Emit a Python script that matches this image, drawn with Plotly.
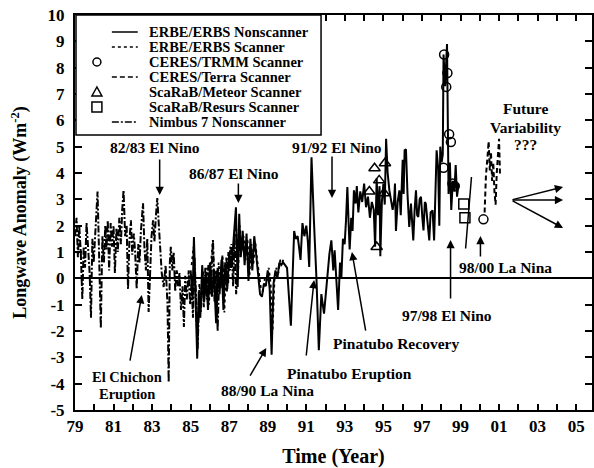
import plotly.graph_objects as go

# ---------------- data ----------------
nimbus_x = [1979.0, 1979.08, 1979.15, 1979.22, 1979.3, 1979.38, 1979.45, 1979.52, 1979.6, 1979.68,
            1979.76, 1979.83, 1979.9, 1979.97, 1980.05, 1980.12, 1980.17, 1980.25, 1980.34, 1980.42,
            1980.5, 1980.57, 1980.63, 1980.7, 1980.77, 1980.85, 1980.92, 1981.0, 1981.07, 1981.15,
            1981.22, 1981.3, 1981.38, 1981.45, 1981.52, 1981.6, 1981.68, 1981.75, 1981.82, 1981.9,
            1981.97, 1982.05, 1982.12, 1982.2, 1982.28, 1982.35, 1982.42, 1982.53, 1982.6, 1982.68,
            1982.75, 1982.82, 1982.9, 1982.97, 1983.05, 1983.12, 1983.2, 1983.27, 1983.35, 1983.42,
            1983.5, 1983.6, 1983.7, 1983.8, 1983.86, 1983.92, 1983.97, 1984.05, 1984.12, 1984.2,
            1984.28, 1984.35, 1984.42, 1984.5, 1984.58, 1984.65, 1984.72, 1984.8, 1984.9, 1984.97,
            1985.05, 1985.12, 1985.2, 1985.28, 1985.36, 1985.45, 1985.52, 1985.6, 1985.68, 1985.76,
            1985.84, 1985.92, 1986.0, 1986.08, 1986.16, 1986.24, 1986.32, 1986.4, 1986.48, 1986.56,
            1986.64, 1986.72, 1986.8, 1986.88, 1986.96, 1987.04, 1987.12, 1987.2, 1987.28, 1987.36,
            1987.44]
nimbus_y = [1.6, 2.3, 0.8, 2.0, 1.0, -0.8, 1.2, 0.4, 2.1, 1.0,
            0.2, -1.5, 1.5, 0.6, 1.8, 2.4, 3.3, 0.9, -1.9, 1.6,
            0.6, 2.0, 1.1, 2.2, 0.3, 2.1, 1.2, 2.0, 0.2, 1.9,
            1.0, 2.3, 1.3, 2.6, 3.35, 1.6, 2.0, -0.4, 1.4, 2.2,
            0.9, 1.7, 1.0, -0.4, 1.3, 0.6, 1.8, 2.85, 1.2, 0.3,
            1.5, -1.28, 0.4, 1.6, 2.2, 1.4, 2.4, 3.05, 2.0, 1.0,
            0.2, -0.33, 0.5, -1.0, -3.95, 0.6, 1.2, 0.3, 1.0, -0.5,
            0.3, -0.3, 0.2, -1.2, -0.3, -1.85, 0.1, -0.8, 0.3, -1.0,
            -0.2, -1.5, 0.8, -0.7, -2.7, -0.6, -1.3, 0.2, -1.1, 0.4,
            -0.8, 0.5, -0.6, 0.2, 1.45, -0.9, 0.3, -2.0, 0.1, -0.4,
            0.8, -0.2, 0.6, -0.5, 1.0, 0.3, 1.3, -0.3, 1.6, -0.6,
            0.3]

erbs_ns_x = [1985.0, 1985.1, 1985.17, 1985.25, 1985.34, 1985.42, 1985.5, 1985.6, 1985.7, 1985.8,
             1985.9, 1986.0, 1986.1, 1986.2, 1986.32, 1986.4, 1986.5, 1986.6, 1986.7, 1986.8,
             1986.9, 1987.0, 1987.1, 1987.2, 1987.35, 1987.44, 1987.52, 1987.6, 1987.7, 1987.8,
             1987.9, 1988.0, 1988.1, 1988.2, 1988.3, 1988.4, 1988.5, 1988.6, 1988.7, 1988.8,
             1988.9, 1989.0, 1989.1, 1989.2, 1989.3, 1989.4, 1989.5, 1989.6, 1989.7, 1989.8,
             1989.9, 1990.0, 1990.2, 1990.37, 1990.45, 1990.55, 1990.62, 1990.7, 1990.8, 1990.9,
             1991.0, 1991.08, 1991.15, 1991.27, 1991.4, 1991.53, 1991.65, 1991.78, 1991.92, 1992.04,
             1992.12, 1992.2, 1992.3, 1992.4, 1992.47, 1992.55, 1992.65, 1992.75, 1992.82, 1992.9,
             1992.99, 1993.06, 1993.13, 1993.2, 1993.25, 1993.33, 1993.4, 1993.47, 1993.56, 1993.62,
             1993.7, 1993.8, 1993.9, 1994.0, 1994.1, 1994.2, 1994.3, 1994.4, 1994.5, 1994.57,
             1994.65, 1994.72, 1994.8, 1994.84, 1994.92, 1995.0, 1995.07, 1995.14, 1995.22, 1995.31,
             1995.4, 1995.48, 1995.56, 1995.6, 1995.65, 1995.74, 1995.83, 1995.9, 1996.0, 1996.05,
             1996.1, 1996.17, 1996.25, 1996.34, 1996.43, 1996.55, 1996.62, 1996.69, 1996.75, 1996.81,
             1996.88, 1996.95, 1997.02, 1997.08, 1997.15, 1997.2, 1997.28, 1997.38, 1997.45, 1997.55,
             1997.63, 1997.7, 1997.76, 1997.84, 1997.9, 1997.95, 1998.02, 1998.08, 1998.12, 1998.2,
             1998.3, 1998.38, 1998.45, 1998.52, 1998.6, 1998.68, 1998.75, 1998.82, 1998.9]
erbs_ns_y = [0.3, -0.8, 1.57, -1.2, -3.05, -0.5, -1.5, 0.5, -0.9, 0.2,
             -1.2, 0.6, -0.7, 0.3, -1.7, 0.4, -0.6, 0.7, -1.2, 0.6,
             -0.4, 1.0, 0.4, 1.2, 2.7, -0.33, 2.45, 0.8, 1.8, 0.5,
             1.7, -0.1, 1.5, 0.3, 1.6, 0.9, 0.0, -0.6, -0.7, -0.2,
             -0.3, 0.3, -0.4, -2.9, -0.2, 0.3, 0.0, 0.6, 0.5, 0.6,
             0.5, 0.4, -1.8, 1.8, 1.5, 1.6, 1.2, 0.7, 2.1, 1.6,
             2.0, 1.4, 0.43, 4.6, 2.1, -0.07, -2.73, -0.6, -1.34, -0.33,
             0.5, 0.94, 1.44, 0.3, 1.06, -0.2, -1.2, 0.6, 0.05, 1.5,
             1.3, 2.2, 3.47, 2.0, 1.1, 2.3, 1.8, 3.34, 2.84, 3.5,
             2.5, 3.3, 2.9, 3.6, 2.7, 3.1, 2.3, 2.9, 2.6, 1.2,
             3.8, 2.4, 3.5, 0.84, 2.9, 3.6, 2.8, 5.3, 4.0, 3.34,
             3.0, 2.6, 3.0, 3.6, 1.8, 2.9, 3.34, 2.4, 4.5, 3.2,
             4.86, 4.9, 3.2, 1.95, 2.84, 1.44, 2.6, 3.34, 2.4, 2.33,
             3.0, 3.1, 2.3, 1.82, 2.9, 2.84, 2.2, 1.44, 2.5, 2.58,
             1.44, 3.6, 4.86, 4.2, 2.0, 5.0, 4.4, 4.7, 8.5, 7.3,
             8.9, 3.2, 4.4, 2.6, 3.7, 3.3, 4.3, 3.1, 3.6]

erbs_sc_x = [1985.05, 1985.15, 1985.25, 1985.35, 1985.45, 1985.55, 1985.65, 1985.75, 1985.85, 1985.95,
             1986.05, 1986.15, 1986.25, 1986.35, 1986.45, 1986.55, 1986.65, 1986.75, 1986.85, 1986.95,
             1987.05, 1987.15, 1987.25, 1987.35, 1987.45, 1987.55, 1987.65, 1987.75, 1987.85, 1987.95,
             1988.05, 1988.15, 1988.25, 1988.35, 1988.45, 1988.55, 1988.65, 1988.75, 1988.85, 1988.95,
             1989.05, 1989.15, 1989.25, 1989.35, 1989.45, 1989.55, 1989.65, 1989.75, 1989.85]
erbs_sc_y = [0.5, 1.2, -0.5, -2.4, -0.2, -1.0, 0.3, -0.6, 0.4, -1.0,
             0.5, 1.45, -0.3, -1.4, 0.6, -0.3, 0.9, -1.3, 0.8, -0.2,
             1.2, 0.6, 1.4, 2.2, 0.0, 2.0, 1.0, 1.6, 0.7, 1.5,
             0.1, 1.3, 0.5, 1.4, 0.7, 0.2, -0.4, -0.5, 0.0, -0.1,
             0.4, -0.2, -2.0, 0.0, 0.4, 0.2, 0.7, 0.6, 0.8]

trmm_x = [1998.12, 1998.15, 1998.26, 1998.32, 1998.41, 1998.5, 1998.58, 1998.7, 2000.19]
trmm_y = [4.2, 8.5, 7.27, 7.8, 5.47, 5.18, 3.6, 3.5, 2.24]

terra_x = [2000.25, 2000.32, 2000.4, 2000.46, 2000.52, 2000.58, 2000.64, 2000.7, 2000.76, 2000.82,
           2000.88, 2000.94, 2001.0, 2001.05]
terra_y = [2.5, 3.9, 4.6, 5.2, 4.1, 4.8, 3.7, 4.4, 3.3, 2.8, 4.0, 4.6, 5.3, 3.9]

meteor_x = [1994.27, 1994.54, 1994.65, 1994.78, 1995.03, 1995.08]
meteor_y = [3.3, 4.18, 1.19, 3.72, 3.23, 4.37]

resurs_x = [1999.17, 1999.23]
resurs_y = [2.82, 2.3]

year_major = list(range(1979, 2006, 2))
year_text = [f"<b>{y % 100:02d}</b>" for y in year_major]
y_ticks = list(range(-5, 11))
y_text = [f"<b>{v}</b>" for v in y_ticks]

# ---------------- helpers (pixel -> data) ----------------
X0, PXY = 75.0, 19.35
Y0, PXV = 278.3, 26.33


def dx(px):
    return 1979 + (px - X0) / PXY


def dy(py):
    return (Y0 - py) / PXV


FONT = "Liberation Serif"
BLK = "black"

fig = go.Figure()
fig.add_trace(go.Scatter(x=nimbus_x, y=nimbus_y, mode="lines",
                         line=dict(color=BLK, width=2, dash="7px,2px,2px,2px"), name="Nimbus 7"))
fig.add_trace(go.Scatter(x=erbs_sc_x, y=erbs_sc_y, mode="lines",
                         line=dict(color=BLK, width=1.8, dash="dot"), name="ERBE/ERBS Scanner"))
fig.add_trace(go.Scatter(x=erbs_ns_x, y=erbs_ns_y, mode="lines",
                         line=dict(color=BLK, width=2), name="ERBE/ERBS Nonscanner"))
fig.add_trace(go.Scatter(x=terra_x, y=terra_y, mode="lines",
                         line=dict(color=BLK, width=2, dash="5px,3px"), name="CERES/Terra"))
fig.add_trace(go.Scatter(x=trmm_x, y=trmm_y, mode="markers",
                         marker=dict(symbol="circle-open", size=9, color=BLK, line=dict(width=1.5)),
                         name="CERES/TRMM"))
fig.add_trace(go.Scatter(x=meteor_x, y=meteor_y, mode="markers",
                         marker=dict(symbol="triangle-up-open", size=10, color=BLK, line=dict(width=1.5)),
                         name="ScaRaB/Meteor"))
fig.add_trace(go.Scatter(x=resurs_x, y=resurs_y, mode="markers",
                         marker=dict(symbol="square-open", size=10, color=BLK, line=dict(width=1.5)),
                         name="ScaRaB/Resurs"))

shapes = []
annos = []

# ---- manual legend ----
shapes.append(dict(type="rect", xref="x", yref="y", x0=dx(76), x1=dx(322), y0=dy(15), y1=dy(135),
                   line=dict(color=BLK, width=1.5), fillcolor="white", layer="above"))
leg_labels = ["ERBE/ERBS Nonscanner", "ERBE/ERBS Scanner", "CERES/TRMM Scanner", "CERES/Terra Scanner",
              "ScaRaB/Meteor Scanner", "ScaRaB/Resurs Scanner", "Nimbus 7 Nonscanner"]
rows = [32, 47, 62, 77, 92, 107, 122]
line_styles = {0: "solid", 1: "dot", 3: "5px,3px", 6: "7px,2px,2px,2px"}
for i, (lab, ry) in enumerate(zip(leg_labels, rows)):
    annos.append(dict(x=dx(147), y=dy(ry), xref="x", yref="y", text=f"<b>{lab}</b>", showarrow=False,
                      xanchor="left", yanchor="middle",
                      font=dict(family=FONT, size=14.5, color=BLK, weight="bold")))
    if i in line_styles:
        shapes.append(dict(type="line", xref="x", yref="y", x0=dx(112), x1=dx(138), y0=dy(ry), y1=dy(ry),
                           line=dict(color=BLK, width=1.5, dash=line_styles[i]),
                           layer="above"))
cx, r = 97, 4
shapes.append(dict(type="circle", xref="x", yref="y", x0=dx(cx - r), x1=dx(cx + r), y0=dy(62 - r), y1=dy(62 + r),
                   line=dict(color=BLK, width=1.5), layer="above"))
shapes.append(dict(type="path", xref="x", yref="y",
                   path=f"M {dx(cx - 5)} {dy(96)} L {dx(cx + 5)} {dy(96)} L {dx(cx)} {dy(87)} Z",
                   line=dict(color=BLK, width=1.5), layer="above"))
shapes.append(dict(type="rect", xref="x", yref="y", x0=dx(cx - 5), x1=dx(cx + 5), y0=dy(102), y1=dy(112),
                   line=dict(color=BLK, width=1.5), layer="above"))


# ---- text annotations ----
def text(px, py, s, size=15.5):
    annos.append(dict(x=dx(px), y=dy(py), xref="x", yref="y", text=f"<b>{s}</b>", showarrow=False,
                      xanchor="center", yanchor="middle",
                      font=dict(family=FONT, size=size, color=BLK, weight="bold")))


def arrow(hx, hy, tx, ty, head=2):
    annos.append(dict(x=dx(hx), y=dy(hy), xref="x", yref="y", text="", showarrow=True,
                      ax=tx - hx, ay=ty - hy, arrowhead=head, arrowsize=1.1, arrowwidth=1.5,
                      arrowcolor=BLK))


text(155, 147, "82/83 El Nino")
arrow(160, 195, 160, 158)
text(235, 173, "86/87 El Nino")
arrow(239, 203, 239, 182)
text(338, 147, "91/92 El Nino")
arrow(333, 198, 333, 155)
text(127, 377, "El Chichon", 14.5)
text(127, 394, "Eruption", 14.5)
arrow(142, 295, 130, 362)
text(268, 390, "88/90 La Nina")
arrow(267, 348, 250, 377)
text(351, 373, "Pinatubo Eruption")
arrow(315, 280, 307, 357)
text(397, 343, "Pinatubo Recovery")
arrow(353, 252, 367, 332)
text(448, 315, "97/98 El Nino")
arrow(452, 240, 452, 300)
text(507, 267, "98/00 La Nina")
arrow(482, 236, 482, 258)
arrow(473, 177, 467, 250, head=0)
text(527, 108, "Future")
text(527, 127, "Variability")
text(527, 144, "???")
for ex, ey in [(565, 187), (565, 200), (565, 228)]:
    arrow(ex, ey, 513, 200)

fig.update_layout(
    width=594, height=468,
    margin=dict(l=75, r=0, t=15, b=58),
    plot_bgcolor="white", paper_bgcolor="white",
    showlegend=False,
    shapes=shapes, annotations=annos,
    font=dict(family=FONT, color=BLK),
)
fig.update_xaxes(range=[1979, dx(594)], tickvals=year_major, ticktext=year_text, ticks="inside",
                 ticklen=6, tickwidth=1.5, tickcolor=BLK, showline=True, linecolor=BLK, linewidth=2,
                 minor=dict(dtick=1, tick0=1979, ticks="inside", ticklen=6, tickwidth=1.5, tickcolor=BLK),
                 mirror="allticks", showgrid=False, zeroline=False,
                 title=dict(text="<b>Time (Year)</b>", standoff=17,
                            font=dict(family=FONT, size=20, color=BLK, weight="bold")),
                 tickfont=dict(family=FONT, size=17, color=BLK, weight="bold"))
fig.update_yaxes(range=[-5, 10], tickvals=y_ticks, ticktext=y_text, ticks="inside", ticklen=7, tickwidth=1.5,
                 tickcolor=BLK, showline=True, linecolor=BLK, linewidth=2, mirror="allticks",
                 showgrid=False, zeroline=True, zerolinecolor=BLK, zerolinewidth=1.5,
                 ticklabelstandoff=5,
                 title=dict(text="<b>Longwave Anomaly (Wm<sup>-2</sup>)</b>", standoff=16,
                            font=dict(family=FONT, size=18, color=BLK, weight="bold")),
                 tickfont=dict(family=FONT, size=17, color=BLK, weight="bold"))

fig.write_html("out.html", config={"displayModeBar": False},
               post_script="document.body.style.margin='0px';document.body.style.overflow='hidden';")
